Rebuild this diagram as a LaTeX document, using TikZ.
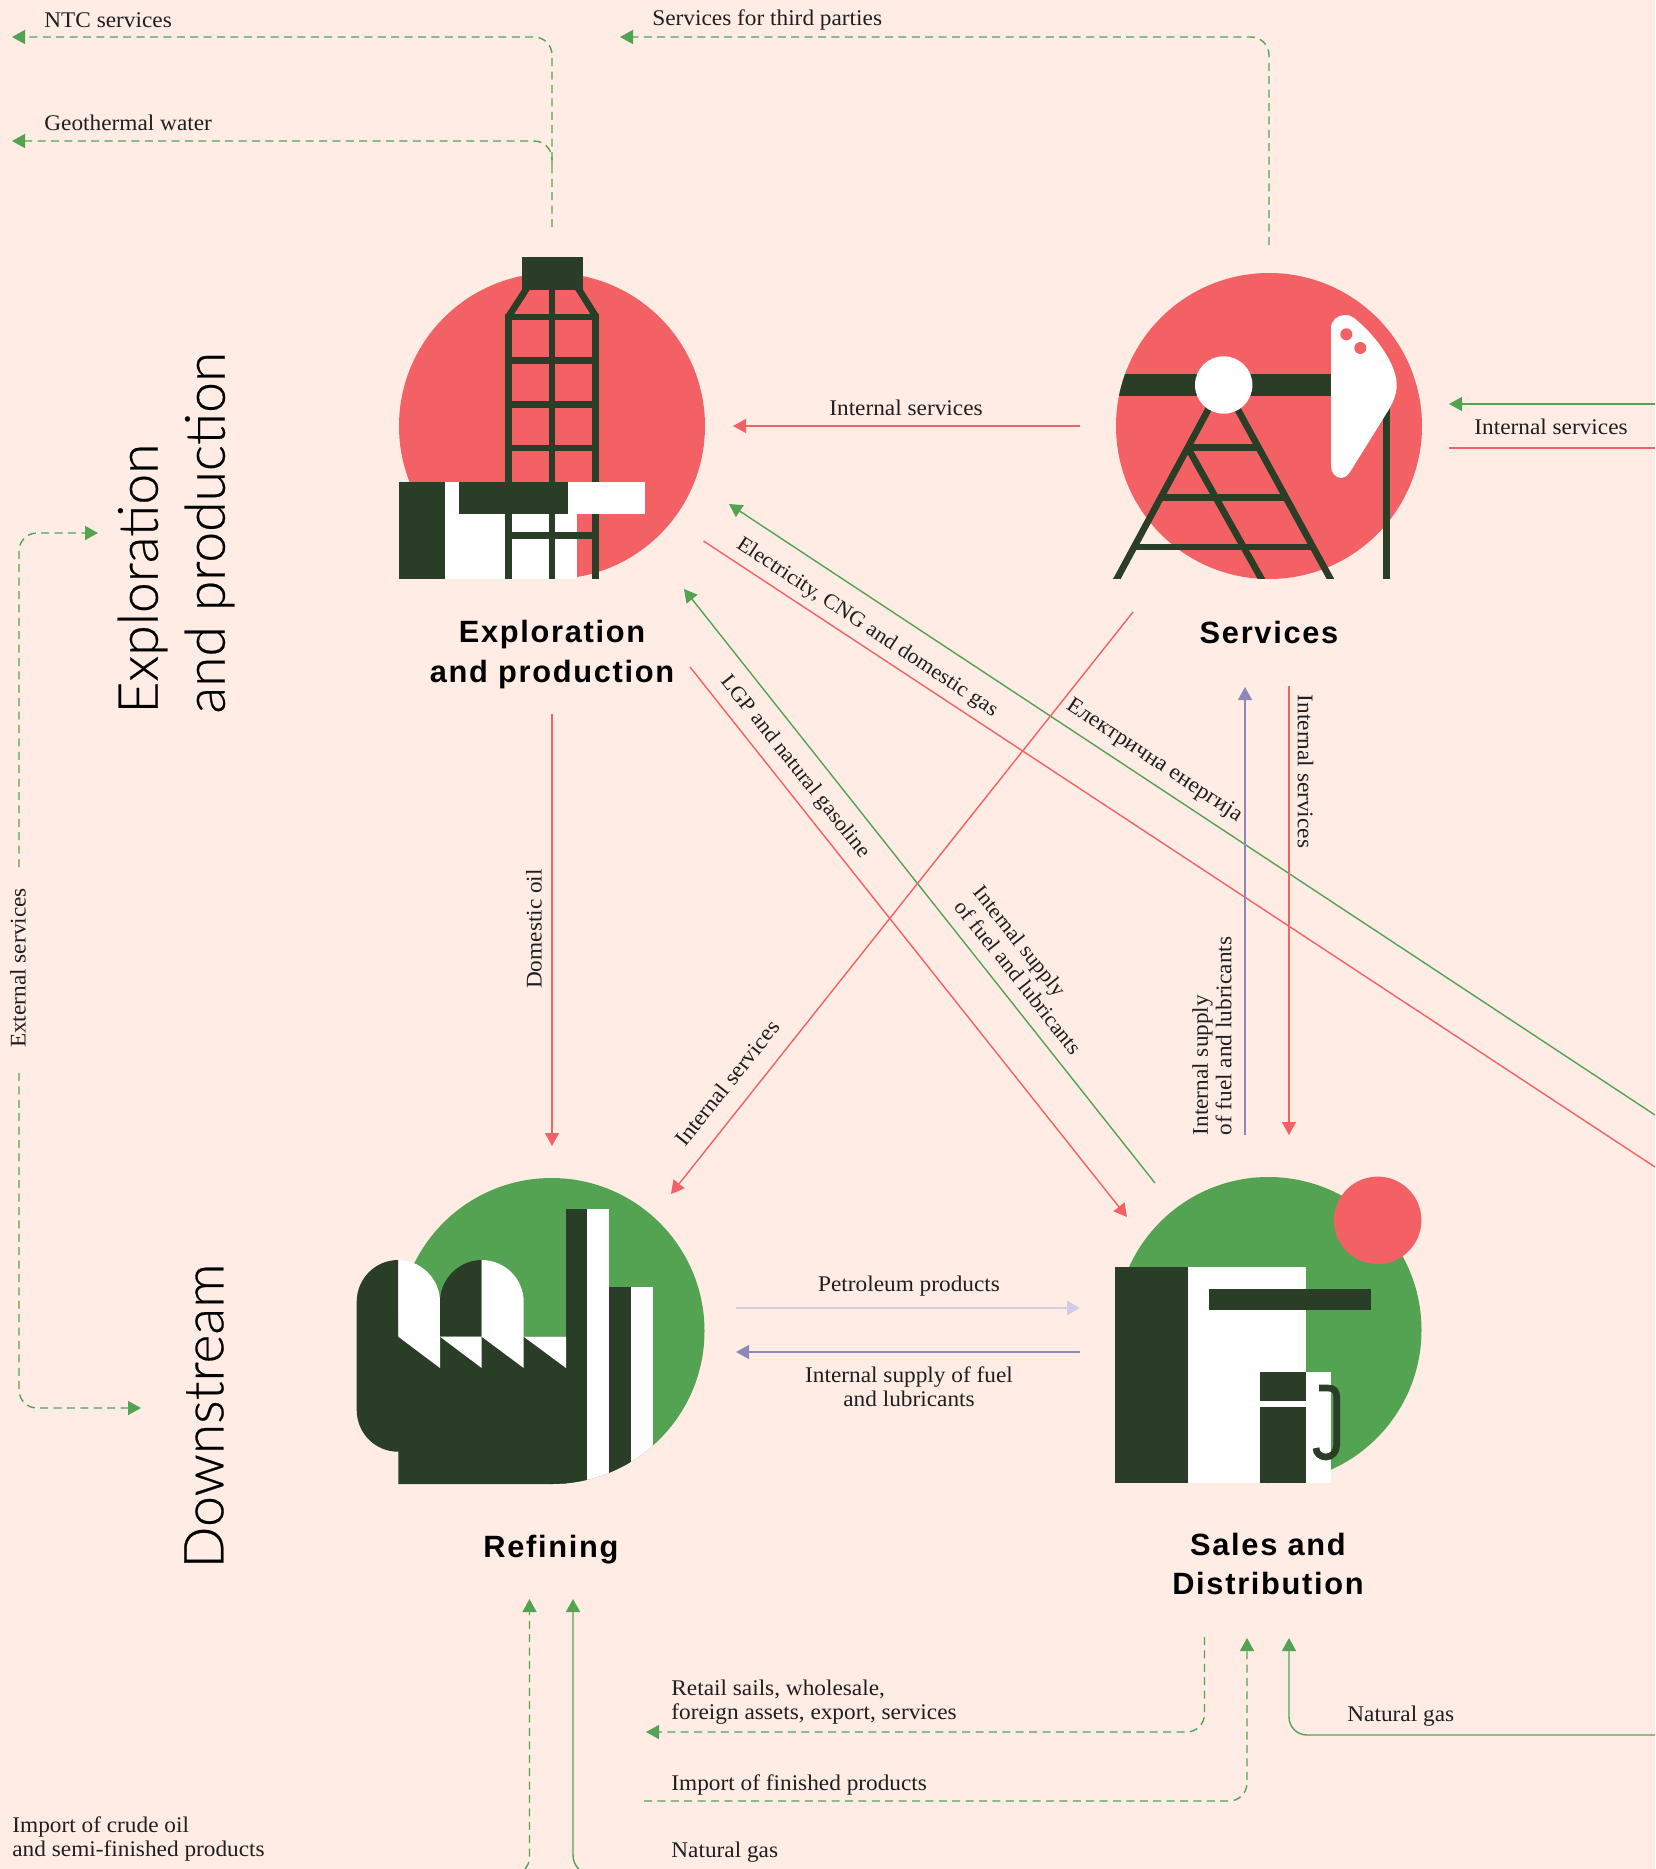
\documentclass[tikz,border=0pt]{standalone}
\usepackage{fontspec}
\usetikzlibrary{arrows.meta}
\setmainfont[FakeStretch=1.04]{Liberation Serif}
\newfontfamily\headfont[LetterSpace=5.5]{Liberation Sans}
\newfontfamily\sidefont[FakeBold=0.4]{Lato Light}
\definecolor{bgc}{HTML}{FFECE4}
\definecolor{redc}{HTML}{F46165}
\definecolor{greenc}{HTML}{53A353}
\definecolor{darkc}{HTML}{2A3D27}
\definecolor{purplec}{HTML}{8C89B8}
\definecolor{lavc}{HTML}{D0CDE4}
\tikzset{
  x=0.5pt,y=-0.5pt,
  conn/.style={line width=0.7pt,-{Triangle[length=6.5pt,width=7pt]}},
  plainl/.style={line width=0.7pt},
  dashg/.style={draw=greenc,line width=0.7pt,dash pattern=on 4pt off 2.7pt,rounded corners=9pt},
  dasharrow/.style={dashg,-{Triangle[length=6.5pt,width=7pt]}},
  lbl/.style={font=\fontsize{11.2}{11.8}\selectfont,inner sep=0pt,text=black!88},
  lbltight/.style={lbl,font=\fontsize{10.7}{11.8}\selectfont},
  head/.style={font=\fontsize{15.4}{19.6}\selectfont\headfont\bfseries,inner sep=0pt,align=center,text=black},
  side/.style={font=\fontsize{27.6}{33.5}\selectfont\sidefont,inner sep=0pt,align=left,text=black},
  bar/.style={line width=3.33pt,draw=darkc},
}
\begin{document}
\begin{tikzpicture}
\useasboundingbox (0,0) rectangle (1655,1869);
\fill[bgc] (0,0) rectangle (1655,1869);
\clip (0,0) rectangle (1655,1869);

% Exploration icon
\fill[redc] (552,426) circle[radius=76.5pt];
\fill[white] (445.3,482) rectangle (577,578.7);
\fill[darkc] (522,257) rectangle (583,290);
\foreach \xx in {508.7,552,595.7} \draw[bar] (\xx,313.7) -- (\xx,578.7);
\draw[bar] (552,288) -- (552,320);
\foreach \yy in {317,360.7,404.3,448,535.3} \draw[bar] (505.3,\yy) -- (599,\yy);
\draw[bar] (527,288) -- (508.2,317);
\draw[bar] (578,288) -- (596.2,317);
\fill[white] (568,482) rectangle (645,514);
\fill[darkc] (459,482) rectangle (568,514);
\fill[darkc] (399,482) rectangle (445.3,578.7);

% Services icon
\fill[redc] (1269,426) circle[radius=76.5pt];
\begin{scope}
\clip (1269,426) circle[radius=76.5pt];
\fill[darkc] (1100,374) rectangle (1335,396);
\end{scope}
\begin{scope}
\clip (1100,380) rectangle (1400,578.7);
\draw[bar] (1210.7,405) -- (1115.2,582);
\draw[bar] (1235.3,405) -- (1332.1,582);
\draw[bar] (1189,450) -- (1263.2,582);
\foreach \yy/\xa/\xb in {447.7/1187.6/1258.6,497.3/1160.7/1286,547/1133.8/1313} \draw[bar] (\xa,\yy) -- (\xb,\yy);
\draw[bar] (1386.3,400) -- (1386.3,578.7);
\end{scope}
\fill[white] (1223.7,385) circle[radius=14.35pt];
\fill[white] (1331,328) .. controls (1331,320) and (1338,315) .. (1345,315)
  .. controls (1349,315) and (1351,316) .. (1354,318)
  .. controls (1372,332) and (1396.7,362) .. (1396.7,385)
  .. controls (1396.7,395) and (1392,405) .. (1386.7,413)
  -- (1350,472) .. controls (1346,477) and (1344,478) .. (1341.5,478)
  .. controls (1335,478) and (1331,472) .. (1331,466) -- cycle;
\fill[redc] (1346.3,334.3) circle[radius=3pt];
\fill[redc] (1360.3,348) circle[radius=3pt];

% Refining icon
\fill[greenc] (551.5,1331) circle[radius=76.5pt];
\fill[darkc] (398.3,1260) .. controls (375,1260) and (356.7,1279) .. (356.7,1301.7)
  -- (356.7,1410) .. controls (356.7,1433) and (375,1451.7) .. (398.3,1451.7)
  -- (398.3,1484) -- (552,1484) -- (566,1483.5) -- (566,1336.7) -- (398.3,1336.7) -- cycle;
\begin{scope}
\clip (551.5,1331) circle[radius=76.5pt];
\fill[darkc] (566,1209) rectangle (587.3,1490);
\fill[white] (587.3,1209) rectangle (609,1490);
\fill[darkc] (609,1287) rectangle (631,1490);
\fill[white] (631,1287) rectangle (653,1490);
\end{scope}
\fill[white] (398.3,1336.7) -- (398.3,1260) .. controls (421,1260) and (440,1279) .. (440,1301.7) -- (440,1368) -- cycle;
\fill[darkc] (440,1336.7) -- (440,1301.7) .. controls (440,1279) and (459,1260) .. (481.7,1260) -- (481.7,1336.7) -- cycle;
\fill[white] (440,1336.7) -- (481.7,1336.7) -- (481.7,1368) -- cycle;
\fill[white] (481.7,1336.7) -- (481.7,1260) .. controls (505,1260) and (523.7,1279) .. (523.7,1301.7) -- (523.7,1368) -- cycle;
\fill[white] (523.7,1336.7) -- (566,1336.7) -- (566,1368) -- cycle;

% Sales icon
\fill[greenc] (1268.5,1330) circle[radius=76.5pt];
\fill[redc] (1377.7,1220.3) circle[radius=21.85pt];
\fill[white] (1188,1267) rectangle (1306,1483);
\fill[white] (1306,1372) rectangle (1331,1483);
\fill[darkc] (1115,1267) rectangle (1188,1483);
\fill[darkc] (1209,1289) rectangle (1371,1310);
\fill[darkc] (1260,1372) rectangle (1306,1400.7);
\fill[darkc] (1260,1407) rectangle (1306,1483);
\draw[bar] (1319,1388) -- (1328,1388) .. controls (1334,1388) and (1336.7,1391) .. (1336.7,1397)
  -- (1336.7,1445) .. controls (1336.7,1452) and (1332,1457) .. (1326,1457)
  .. controls (1320,1457) and (1316,1453) .. (1316,1448);

% Connector ends
\coordinate (ntcS) at (552,227); \coordinate (ntcE) at (12,37);
\coordinate (geoS) at (552,165); \coordinate (geoE) at (12,141);
\coordinate (thirdS) at (1269,245); \coordinate (thirdE) at (620,37);
\coordinate (isS) at (1080,426); \coordinate (isE) at (733,426);
\coordinate (rgS) at (1655,404); \coordinate (rgE) at (1449,404);
\coordinate (rrS) at (1449,448); \coordinate (rrE) at (1655,448);
\coordinate (lgS) at (1655,1115); \coordinate (lgE) at (729,504);
\coordinate (lrS) at (703.5,541); \coordinate (lrE) at (1655,1167);
\coordinate (lpgS) at (690,667); \coordinate (lpgE) at (1127,1217);
\coordinate (fuelS) at (1155,1183); \coordinate (fuelE) at (684,589);
\coordinate (intS) at (1133,612); \coordinate (intE) at (671,1194);
\coordinate (domS) at (552,714); \coordinate (domE) at (552,1146);
\coordinate (supS) at (1245,1135); \coordinate (supE) at (1245,687);
\coordinate (sidS) at (1289,686); \coordinate (sidE) at (1289,1135);
\coordinate (petS) at (736,1308); \coordinate (petE) at (1080,1308);
\coordinate (backS) at (1080,1352); \coordinate (backE) at (736,1352);
\coordinate (extaS) at (19,867); \coordinate (extaE) at (98,533);
\coordinate (extbS) at (19,1073); \coordinate (extbE) at (141,1408);
\coordinate (retS) at (1204.5,1637); \coordinate (retE) at (646,1732);
\coordinate (impS) at (644,1801); \coordinate (impE) at (1247,1638);
\coordinate (gasS) at (1655,1735); \coordinate (gasE) at (1289,1638);
\coordinate (crudeS) at (500,1875); \coordinate (crudeE) at (529.5,1599);
\coordinate (gasbS) at (610,1875); \coordinate (gasbE) at (573,1599);

% Connectors
\draw[dasharrow] (ntcS) |- (ntcE);
\draw[dasharrow] (geoS) |- (geoE);
\draw[dasharrow] (thirdS) |- (thirdE);
\draw[conn,redc] (isS) -- (isE);
\draw[conn,greenc] (rgS) -- (rgE);
\draw[plainl,redc] (rrS) -- (rrE);
\draw[conn,greenc] (lgS) -- (lgE);
\draw[plainl,redc] (lrS) -- (lrE);
\draw[conn,redc] (lpgS) -- (lpgE);
\draw[conn,greenc] (fuelS) -- (fuelE);
\draw[conn,redc] (intS) -- (intE);
\draw[conn,redc] (domS) -- (domE);
\draw[conn,purplec] (supS) -- (supE);
\draw[conn,redc] (sidS) -- (sidE);
\draw[conn,lavc] (petS) -- (petE);
\draw[conn,purplec] (backS) -- (backE);
\draw[dasharrow] (extaS) |- (extaE);
\draw[dasharrow] (extbS) |- (extbE);
\draw[dasharrow] (retS) |- (retE);
\draw[dasharrow] (impS) -| (impE);
\draw[conn,greenc,rounded corners=9pt] (gasS) -| (gasE);
\draw[dasharrow] (crudeS) -| (crudeE);
\draw[conn,greenc,rounded corners=10pt] (gasbS) -| (gasbE);

% Labels
\node[lbl,anchor=west] (tNtc) at (44,20) {NTC services};
\node[lbl,anchor=west] (tGeo) at (44,123) {Geothermal water};
\node[lbl,anchor=west] (tThird) at (652,20) {Services for third parties};
\node[lbl] (tInt) at (906,408) {Internal services};
\node[lbl] (tIntR) at (1551,427) {Internal services};
\node[lbltight,rotate=-33.4] (tElec) at (867,628) {Electricity, CNG and domestic gas};
\node[lbl,rotate=-33.4] (tEner) at (1154,761) {Електрична енергија};
\node[lbltight,rotate=-51.5] (tLpg) at (795,767) {LGP and natural gasoline};
\node[lbltight,rotate=-51.5,align=left] (tFuelA) at (1028,970) {Internal supply\\of fuel and lubricants};
\node[lbl,rotate=90] (tDom) at (534,929) {Domestic oil};
\node[lbl,rotate=51.6] (tIntD) at (727,1083) {Internal services};
\node[lbl,rotate=-90] (tIntV) at (1305.5,771.5) {Internal services};
\node[lbl,rotate=90,align=left] (tFuelB) at (1212,1036) {Internal supply\\of fuel and lubricants};
\node[lbl,rotate=90] (tExt) at (18,968) {External services};
\node[lbl] (tPet) at (909,1286) {Petroleum products};
\node[lbl,align=center] (tBack) at (909,1387) {Internal supply of fuel\\and lubricants};
\node[lbl,anchor=west,align=left] (tRet) at (671,1702) {Retail sails, wholesale,\\foreign assets, export, services};
\node[lbl,anchor=west] (tImp) at (671,1785) {Import of finished products};
\node[lbl,anchor=west] (tGasB) at (671,1852) {Natural gas};
\node[lbl,anchor=west] (tGasR) at (1347,1716) {Natural gas};
\node[lbl,anchor=west,align=left] (tCrude) at (12,1839) {Import of crude oil\\and semi-finished products};

% Headings
\node[head] (hExp) at (552,654.5) {Exploration\\and production};
\node[head] (hSer) at (1269,632) {Services};
\node[head] (hRef) at (551,1549.5) {Refining};
\node[head] (hSal) at (1268,1564) {Sales and\\Distribution};

% Side titles
\node[side,rotate=90,anchor=west] (sExp) at (176,714) {Exploration\\and production};
\node[side,rotate=90] (sDown) at (204,1416) {Downstream};
\end{tikzpicture}
\end{document}
